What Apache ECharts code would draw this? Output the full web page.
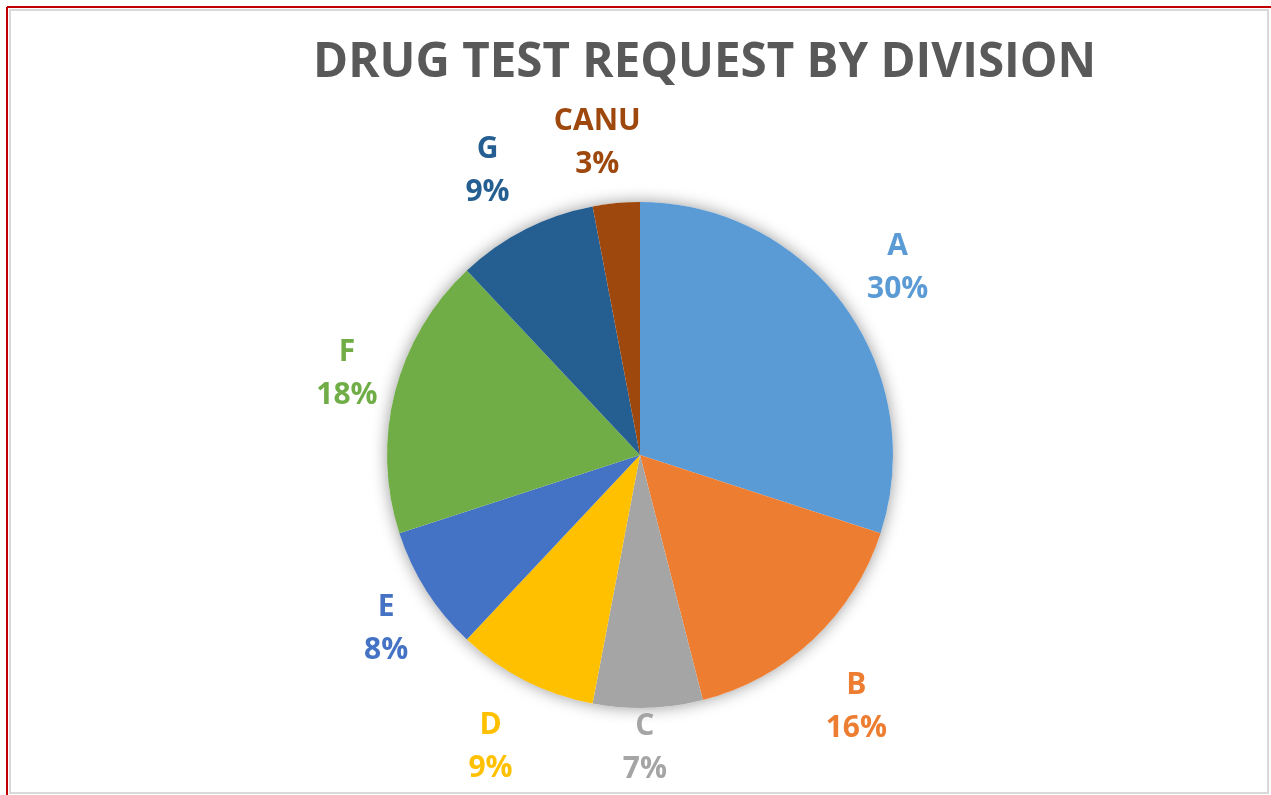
<!DOCTYPE html>
<html>
<head>
<meta charset="utf-8">
<script src="https://cdn.jsdelivr.net/npm/echarts@6/dist/echarts.min.js"></script>
<style>
html,body{margin:0;padding:0;background:#fff;}
#chart{width:1271px;height:795px;}
</style>
</head>
<body>
<div id="chart"></div>
<script>
const titleText = 'DRUG TEST REQUEST BY DIVISION';
const categories = ['A', 'B', 'C', 'D', 'E', 'F', 'G', 'CANU'];
const percents = [30, 16, 7, 9, 8, 18, 9, 3];
const colors = ['#5B9BD5', '#ED7D31', '#A5A5A5', '#FFC000', '#4472C4', '#70AD47', '#255E91', '#9E480E'];
// small label nudges (Excel best-fit placement)
const labelNudges = [[2, -1], [0, 22], [-5, -23], [-6, 10], [13, 5], [13, -2], [-9, -2], [-13, 3]];

const pieData = categories.map((c, i) => ({ name: c, value: percents[i], itemStyle: { color: colors[i] } }));
const labelData = categories.map((c, i) => ({
  name: c, value: percents[i],
  itemStyle: { color: 'rgba(0,0,0,0)' },
  label: { color: colors[i], offset: labelNudges[i] }
}));

const chart = echarts.init(document.getElementById('chart'), null, { renderer: 'canvas' });
chart.setOption({
  backgroundColor: '#ffffff',
  animation: false,
  title: {
    text: titleText,
    left: 308,
    top: 34,
    textStyle: { fontFamily: 'Open Sans', fontWeight: 'bold', fontSize: 47.5, color: '#595959' }
  },
  graphic: [
    { type: 'rect', shape: { x: 10, y: 10, width: 1258, height: 783 }, style: { fill: 'none', stroke: '#d9d9d9', lineWidth: 2 }, z: -10, silent: true },
    { type: 'line', shape: { x1: 7, y1: 7, x2: 1271, y2: 7 }, style: { stroke: '#c00000', lineWidth: 2 }, silent: true },
    { type: 'line', shape: { x1: 7, y1: 7, x2: 7, y2: 795 }, style: { stroke: '#c00000', lineWidth: 2 }, silent: true }
  ],
  series: [
    {
      type: 'pie',
      center: [640, 455],
      radius: [0, 253],
      silent: true,
      z: 1,
      label: { show: false },
      labelLine: { show: false },
      itemStyle: { color: '#ffffff', shadowBlur: 16, shadowColor: 'rgba(0,0,0,0.4)' },
      data: [{ value: 1 }]
    },
    {
      type: 'pie',
      center: [640, 455],
      radius: [0, 253],
      startAngle: 90,
      clockwise: true,
      z: 2,
      silent: true,
      label: { show: false },
      labelLine: { show: false },
      itemStyle: { borderWidth: 0 },
      data: pieData
    },
    {
      type: 'pie',
      center: [640, 455],
      radius: [253, 373],
      startAngle: 90,
      clockwise: true,
      z: 3,
      silent: true,
      labelLine: { show: false },
      label: {
        show: true,
        position: 'inside',
        formatter: p => p.name + '\n' + p.value + '%',
        fontFamily: 'Open Sans',
        fontWeight: 'bold',
        fontSize: 30,
        lineHeight: 43,
        align: 'center'
      },
      data: labelData
    }
  ]
});
</script>
</body>
</html>
